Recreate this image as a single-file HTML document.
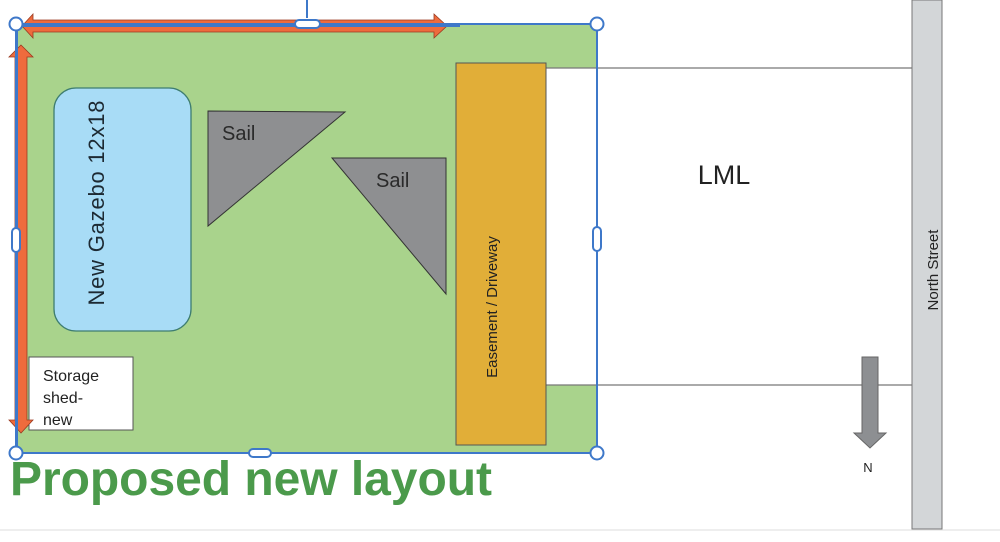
<!DOCTYPE html>
<html><head><meta charset="utf-8"><style>
html,body{margin:0;padding:0;background:#fff;width:1000px;height:542px;overflow:hidden}
svg{display:block}
text{font-family:"Liberation Sans","DejaVu Sans",sans-serif}
</style></head><body>
<svg width="1000" height="542" viewBox="0 0 1000 542" xmlns="http://www.w3.org/2000/svg">
<rect width="1000" height="542" fill="#fff"/>
<line x1="0" y1="530" x2="1000" y2="530" stroke="#eee" stroke-width="2"/>
<path d="M16 24 H597 V68 H546 V385 H597 V453 H16 Z" fill="#a9d38c"/>
<line x1="546" y1="68" x2="912" y2="68" stroke="#777" stroke-width="1.2"/>
<line x1="546" y1="385" x2="912" y2="385" stroke="#777" stroke-width="1.2"/>
<rect x="912" y="0" width="30" height="529" fill="#d3d6d8" stroke="#777" stroke-width="1"/>
<text transform="translate(938,270) rotate(-90)" text-anchor="middle" font-size="15" fill="#222">North Street</text>
<text x="724" y="184" text-anchor="middle" font-size="27" fill="#222">LML</text>
<path d="M862 357 H878 V433 H886 L870 448 L854 433 H862 Z" fill="#8d8f92" stroke="#666" stroke-width="1"/>
<text x="868" y="472" text-anchor="middle" font-size="13" fill="#222">N</text>
<rect x="54" y="88" width="137" height="243" rx="22" fill="#a8dcf6" stroke="#3e7d70" stroke-width="1.3"/>
<text transform="translate(104,203) rotate(-90)" text-anchor="middle" font-size="22" textLength="205" fill="#1d2a33">New Gazebo 12x18</text>
<polygon points="208,111 345,112 208,226" fill="#8e8f91" stroke="#333" stroke-width="1"/>
<text x="222" y="140" font-size="20" fill="#2a2a2a">Sail</text>
<polygon points="332,158 446,158 446,294" fill="#8e8f91" stroke="#333" stroke-width="1"/>
<text x="376" y="187" font-size="20" fill="#2a2a2a">Sail</text>
<rect x="456" y="63" width="90" height="382" fill="#e1ae38" stroke="#555" stroke-width="1"/>
<text transform="translate(497,307) rotate(-90)" text-anchor="middle" font-size="15" fill="#222">Easement / Driveway</text>
<rect x="29" y="357" width="104" height="73" fill="#fff" stroke="#555" stroke-width="1"/>
<text font-size="16" fill="#222"><tspan x="43" y="381">Storage</tspan><tspan x="43" y="403">shed-</tspan><tspan x="43" y="425">new</tspan></text>
<path d="M22 26 L33 14 V20 H434 V14 L447 26 L434 38 V32 H33 V38 Z" fill="#ee6b3d" stroke="#9a3a20" stroke-width="0.8"/>
<path d="M21 45 L33 57 H27 V420 H33 L21 433 L9 420 H15 V57 H9 Z" fill="#ee6b3d" stroke="#9a3a20" stroke-width="0.8"/>
<rect x="16" y="24" width="581" height="429" fill="none" stroke="#3e78c9" stroke-width="2"/>
<line x1="16" y1="26" x2="460" y2="26" stroke="#3e78c9" stroke-width="2"/>
<line x1="17" y1="24" x2="17" y2="453" stroke="#3e78c9" stroke-width="2"/>
<line x1="307" y1="0" x2="307" y2="18" stroke="#3e78c9" stroke-width="2"/>
<g fill="#fff" stroke="#3e78c9" stroke-width="2">
<circle cx="16" cy="24" r="6.5"/><circle cx="597" cy="24" r="6.5"/>
<circle cx="16" cy="453" r="6.5"/><circle cx="597" cy="453" r="6.5"/>
<rect x="295" y="20" width="25" height="8" rx="4"/>
<rect x="249" y="449" width="22" height="8" rx="4"/>
<rect x="12" y="228" width="8" height="24" rx="4"/>
<rect x="593" y="227" width="8" height="24" rx="4"/>
</g>
<text x="10" y="495" font-size="48" font-weight="bold" textLength="482" fill="#4b9a4b">Proposed new layout</text>
</svg>
</body></html>
